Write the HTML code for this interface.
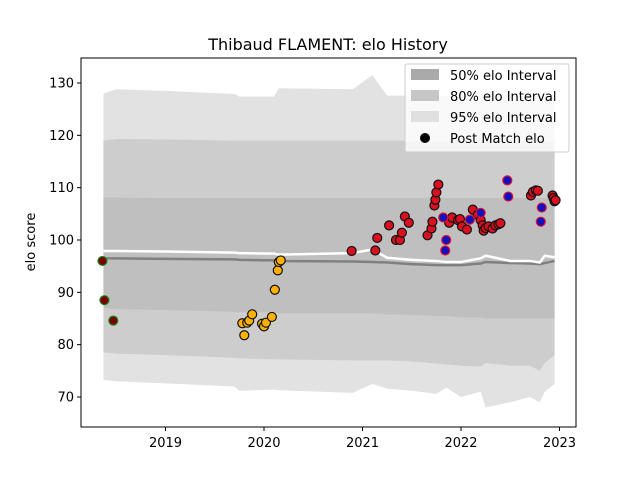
<!DOCTYPE html>
<html><head><meta charset="utf-8"><style>
body{margin:0;background:#fff;font-family:"Liberation Sans","DejaVu Sans",sans-serif}
</style></head><body>
<svg id="chart" width="640" height="480" xmlns="http://www.w3.org/2000/svg" font-family="DejaVu Sans, Liberation Sans, sans-serif">
<rect width="640" height="480" fill="#fff"/>
<text x="328" y="50" font-size="16" text-anchor="middle">Thibaud FLAMENT: elo History</text>
<g id="bands"></g><g id="lines"></g><g id="pts"></g>
<rect x="81" y="58" width="495" height="369" fill="none" stroke="#000" stroke-width="1"/>
<g id="axes"></g>
<text transform="translate(35,242) rotate(-90)" font-size="13" text-anchor="middle">elo score</text>
<g>
<rect x="405" y="64" width="164" height="88" fill="#fff" fill-opacity="0.8" stroke="#ccc" rx="2"/>
<rect x="411" y="69" width="28" height="11" fill="#aaa"/>
<text x="450" y="80" font-size="13">50% elo Interval</text>
<rect x="411" y="90" width="28" height="11" fill="#c6c6c6"/>
<text x="450" y="101" font-size="13">80% elo Interval</text>
<rect x="411" y="111" width="28" height="11" fill="#e0e0e0"/>
<text x="450" y="122" font-size="13">95% elo Interval</text>
<circle cx="425" cy="138" r="5" fill="#000"/>
<text x="450" y="143" font-size="13">Post Match elo</text>
</g>
</svg>
<script>
const bandYears=[2018.37,2018.5,2019.0,2019.7,2019.75,2020.1,2020.15,2020.9,2021.1,2021.25,2021.5,2021.75,2021.85,2022.0,2022.2,2022.25,2022.5,2022.7,2022.8,2022.85,2022.95];
const hi95=[128,128.8,128.5,127.9,127.4,127.4,129,128.8,131.5,127.6,127.6,127.6,127.6,127.6,127.6,127.6,127.6,127.6,127.6,127.6,127.6];
const hi80=[119,119.3,119.2,119,119,119,119,119,119,119,119,119,119,119,119,119,119,119,119,119,119];
const hi50=[108.1,108.1,108,108,108,108,108,108,108,108,108,108,108,108,108,108,108,108,108,108,108];
const lo50=[87,86.8,86.6,86.3,86.2,86.2,86,86,86,85.8,85.7,85.5,85.5,85.2,85.2,85,85,85,85,85,85];
const lo80=[78.5,78.3,78,77.5,77.4,77.2,77.2,77,77,77,76.8,76.4,76.2,76,75.8,76.5,76,76,75,76.5,78];
const lo95=[73.3,73,72.6,72,71.2,71.4,71.3,70.8,72.5,71.6,71.2,70.6,71.8,70,71,68,69,70,69,71,72.5];
const meanGrey=[96.5,96.5,96.4,96.3,96.2,96.1,96,95.9,95.8,95.7,95.4,95.2,95.2,95.2,95.5,95.8,95.6,95.5,95.4,95.6,96];
const meanWhite=[97.9,97.9,97.8,97.6,97.5,97.4,97.2,97.5,98.2,96.6,96.2,96.0,95.8,95.8,96.5,97,96,96,95.7,97,96.7];
const ptYears=[2018.36,2018.38,2018.47,2019.78,2019.8,2019.83,2019.85,2019.88,2019.98,2020.0,2020.02,2020.08,2020.11,2020.14,2020.15,2020.17,2020.89,2021.13,2021.15,2021.27,2021.34,2021.38,2021.4,2021.43,2021.47,2021.66,2021.7,2021.71,2021.73,2021.74,2021.75,2021.77,2021.88,2021.91,2021.97,2021.99,2022.01,2022.06,2022.12,2022.17,2022.2,2022.22,2022.23,2022.25,2022.28,2022.32,2022.35,2022.38,2022.4,2022.71,2022.73,2022.76,2022.78,2022.93,2022.94,2022.95,2022.96,2021.82,2021.85,2021.84,2022.09,2022.2,2022.47,2022.48,2022.82,2022.81];
const ptElo=[96,88.5,84.6,84.1,81.8,84.2,84.6,85.8,84,83.5,84.2,85.3,90.5,94.2,95.8,96.1,97.9,98,100.4,102.8,100,100,101.4,104.5,103.3,100.9,102.2,103.5,106.6,107.7,109.1,110.6,103.3,104.3,103.8,104,102.6,102,105.8,104.8,103.8,102.8,101.8,102.3,102.6,102.2,102.8,103,103.2,108.5,109.2,109.5,109.4,108.5,108,107.4,107.6,104.3,100,98,103.9,105.2,111.4,108.3,106.2,103.5];
const ptType=[0,0,0,1,1,1,1,1,1,1,1,1,1,1,1,1,2,2,2,2,2,2,2,2,2,2,2,2,2,2,2,2,2,2,2,2,2,2,2,2,2,2,2,2,2,2,2,2,2,2,2,2,2,2,2,2,2,3,3,3,3,3,3,3,3,3];
const yTicks=[70,80,90,100,110,120,130];
const xTicks=[2019,2020,2021,2022,2023];
const xs=y=>165.5+(y-2019)*98.5;
const ys=v=>397-(v-70)*5.233;
const NS="http://www.w3.org/2000/svg";
function mk(tag,parent,attrs){const e=document.createElementNS(NS,tag);for(const k in attrs)e.setAttribute(k,attrs[k]);parent.appendChild(e);return e;}
function bandPath(hi,lo){let d="";bandYears.forEach((y,i)=>d+=(i?"L":"M")+xs(y)+","+ys(hi[i]));for(let i=bandYears.length-1;i>=0;i--)d+="L"+xs(bandYears[i])+","+ys(lo[i]);return d+"Z";}
const B=document.getElementById('bands');
let p=mk('path',B,{d:bandPath(hi95,lo95),fill:'#e2e2e2'});


p=mk('path',B,{d:bandPath(hi80,lo80),fill:'#cdcdcd'});


p=mk('path',B,{d:bandPath(hi50,lo50),fill:'#bfbfbf'});


const L=document.getElementById('lines');
function line(arr,col,w){return mk('polyline',L,{points:bandYears.map((y,i)=>xs(y)+","+ys(arr[i])).join(" "),fill:'none',stroke:col,'stroke-width':w});}
let l=line(meanGrey,'#808080',2.5);


l=line(meanWhite,'#ffffff',2.5);


const P=document.getElementById('pts');
const sty=[{f:'#7a0000',s:'#1a8a1a'},{f:'#ffb000',s:'#111'},{f:'#d81020',s:'#111'},{f:'#1010c0',s:'#e01030'}];
ptYears.forEach((y,i)=>{const s=sty[ptType[i]];const c=mk('circle',P,{cx:xs(y),cy:ys(ptElo[i]),r:4.5,fill:s.f,stroke:s.s,'stroke-width':1.2});

});
const A=document.getElementById('axes');
yTicks.forEach(v=>{mk('line',A,{x1:77,x2:81,y1:ys(v),y2:ys(v),stroke:'#000'});const t=mk('text',A,{x:74,y:ys(v)+4.5,'font-size':13,'text-anchor':'end'});t.textContent=v;

});
xTicks.forEach(v=>{mk('line',A,{x1:xs(v),x2:xs(v),y1:427,y2:431,stroke:'#000'});const t=mk('text',A,{x:xs(v),y:447,'font-size':13,'text-anchor':'middle'});t.textContent=v;

});
</script>
</body></html>
